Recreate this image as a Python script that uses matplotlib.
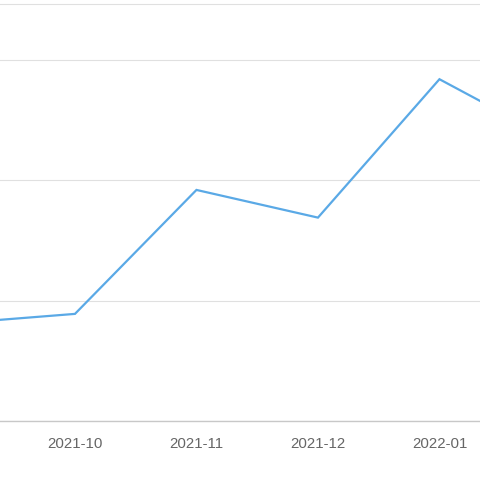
import matplotlib
matplotlib.use('Agg')
import matplotlib.pyplot as plt

# meses e valores (escala estimada a partir da imagem)
meses = ["2021-09", "2021-10", "2021-11", "2021-12", "2022-01", "2022-02"]
valores = [81, 89, 192, 169, 284, 230]
ticks_y = [0, 100, 200, 300]

fig = plt.figure(figsize=(4.81, 4.92), dpi=100)
ax = fig.add_axes([0, 71 / 492, 1, 417 / 492])

x = list(range(len(meses)))
ax.plot(x, valores, color='#5aa9e6', linewidth=1.6, solid_joinstyle='miter', zorder=3)

ax.set_xticks(x)
ax.set_xticklabels(meses)
ax.set_yticks(ticks_y)
ax.set_yticklabels([])
# limites depois dos ticks, senão set_xticks expande a vista
ax.set_xlim(0.383, 4.342)
ax.set_ylim(0, 346.5)
ax.tick_params(axis='x', length=0, pad=11.5, labelsize=10.8, labelcolor='#666666')
ax.tick_params(axis='y', length=0)
for lbl in ax.get_xticklabels():
    lbl.set_fontfamily('Liberation Sans')

ax.grid(axis='y', color='#e0e0e0', linewidth=0.8)
for s in ['left', 'right']:
    ax.spines[s].set_visible(False)
ax.spines['top'].set_color('#e0e0e0')
ax.spines['top'].set_linewidth(0.8)
ax.spines['bottom'].set_color('#c8c8c8')
ax.spines['bottom'].set_linewidth(1.0)

fig.savefig('out.png', dpi=100)
